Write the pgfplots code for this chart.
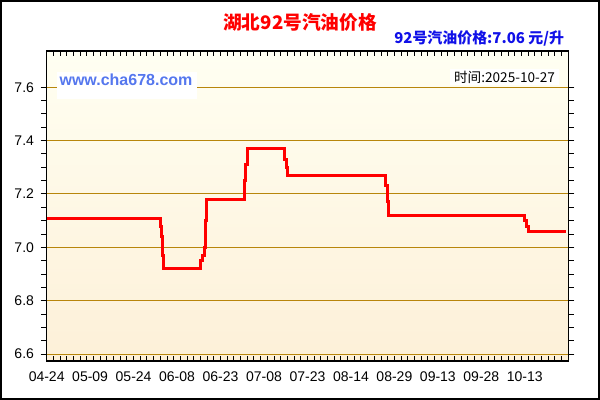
\documentclass[border=0pt]{standalone}
\usepackage{pgfplots}
\pgfplotsset{compat=1.18}
\usepackage{fontspec}
\setmainfont{Liberation Sans}
\newfontfamily\cjk{Noto Sans CJK SC}
\definecolor{gridgold}{HTML}{B8860B}
\definecolor{bgtop}{HTML}{FFFFF2}
\definecolor{bgbot}{HTML}{FDF0D8}
\definecolor{webblue}{HTML}{5577EE}
\definecolor{subblue}{HTML}{1010E8}

\begin{document}
\begin{tikzpicture}[x=1pt,y=1pt]
\fill[white] (0,0) rectangle (450,300);
\begin{axis}[
  at={(35pt,29.25pt)}, anchor=south west,
  scale only axis,
  width=391.2pt, height=232.5pt,
  xmin=0, xmax=156,
  ymin=6.574, ymax=7.736,
  axis background/.style={top color=bgtop, bottom color=bgbot},
  axis line style={line width=1pt, black},
  xtick={0,13,26,39,52,65,78,91,104,117,130,143},
  xticklabels={04-24,05-09,05-24,06-08,06-23,07-08,07-23,08-14,08-29,09-13,09-28,10-13},
  minor xtick={0,2,...,156},
  major x tick style={draw=none},
  xtick align=inside,
  ytick={6.6,6.8,7.0,7.2,7.4,7.6},
  yticklabels={6.6,6.8,7.0,7.2,7.4,7.6},
  minor y tick num=3,
  ytick align=outside,
  major tick length=4.5pt,
  minor tick length=4pt,
  tick style={black, line width=0.75pt},
  ymajorgrids,
  grid style={gridgold, line width=0.75pt},
  tick label style={font=\fontsize{10.5}{12}\selectfont, text=black},
  /pgf/number format/assume math mode=true,
  xticklabel style={yshift=-4.5pt},
  yticklabel style={xshift=-1.5pt},
]
\addplot[const plot, red, line width=2.25pt] coordinates {
  (0,7.11) (34.09,7.08) (34.33,7.04) (34.63,6.97) (34.87,6.92)
  (46.14,6.95) (46.53,6.97) (47.13,7.00) (47.55,7.10) (47.85,7.18)
  (59.09,7.25) (59.6,7.31) (59.99,7.37)
  (71.26,7.33) (71.77,7.30) (72.16,7.27)
  (101.38,7.23) (101.85,7.17) (102.27,7.12)
  (143.03,7.10) (143.54,7.08) (144.02,7.06) (155.2,7.06)
};
\end{axis}
% labels inside the plot area
\fill[white] (42.5,225.4) rectangle (147.75,246.2);
\node[font=\fontsize{12}{14}\selectfont\bfseries, text=webblue] at (94.5,240) {www.cha678.com};
\fill[white] (337.5,236.5) rectangle (419,248.5);
\node[font=\cjk\fontsize{10.2}{12}\selectfont, text=black] at (378.4,242.2) {时间:2025-10-27};
% titles
\node[font=\cjk\fontsize{14}{16}\selectfont\bfseries, text=red] at (225,283.5) {湖北92号汽油价格};
\node[anchor=east, inner sep=0pt, font=\cjk\fontsize{11.2}{13}\selectfont\bfseries, text=subblue] at (423.2,271.2) {92号汽油价格:7.06 元/升};
% outer frame
\draw[line width=1.5pt] (0.75,0.75) rectangle (449.25,299.25);
\pgfresetboundingbox
\useasboundingbox (0,0) rectangle (450,300);
\end{tikzpicture}
\end{document}
